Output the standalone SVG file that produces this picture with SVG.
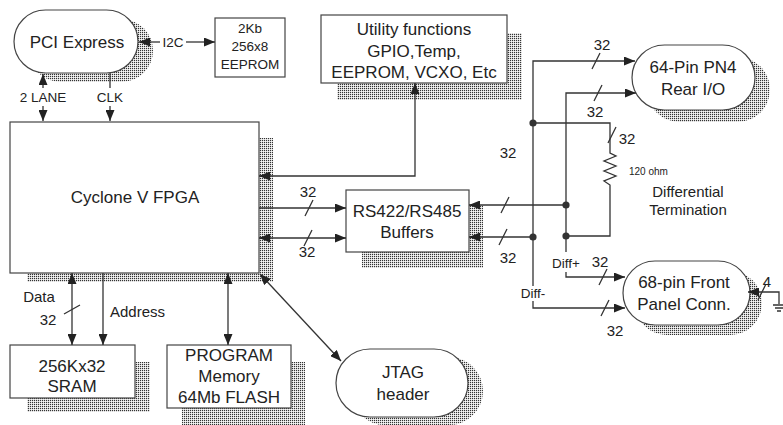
<svg xmlns="http://www.w3.org/2000/svg" width="783" height="425" viewBox="0 0 783 425">
<style>
text{font-family:"Liberation Sans",Arial,sans-serif;fill:#222;text-anchor:middle}
.n{fill:#fff;stroke:#444;stroke-width:1.2}
.sh{fill:url(#dots);stroke:none}
.c{fill:none;stroke:#333;stroke-width:1.3}
.s{stroke:#333;stroke-width:1.3}
.t17{font-size:17px}
.t13{font-size:13.5px}
.t15{font-size:15px}
</style>
<defs>
<pattern id="dots" width="2" height="2" patternUnits="userSpaceOnUse"><rect width="2" height="2" fill="#fff"/><rect width="1.2" height="1.2" fill="#333"/></pattern>
<marker id="ah" viewBox="0 0 11 9" refX="11" refY="4.5" markerWidth="11" markerHeight="9" markerUnits="userSpaceOnUse" orient="auto-start-reverse"><path d="M0,0L11,4.5L0,9z" fill="#222"/></marker>
</defs>
<rect width="783" height="425" fill="#fff"/>

<g id="pci">
<rect class="sh" x="29" y="19" width="124" height="63" rx="31.5"/>
<rect class="n" x="14" y="10" width="124" height="63" rx="31.5"/>
<text class="t17" x="77" y="48">PCI Express</text>
</g>
<g id="eeprom">
<rect class="n" x="215" y="18" width="70" height="59"/>
<text class="t13" x="250" y="33">2Kb</text>
<text class="t13" x="250" y="51">256x8</text>
<text class="t13" x="250" y="69">EEPROM</text>
</g>
<g id="fpga">
<rect class="sh" x="27" y="138" width="246" height="144"/>
<rect class="n" x="10" y="122" width="249" height="151"/>
<text class="t17" x="135" y="203">Cyclone V FPGA</text>
</g>
<g id="utility">
<rect class="sh" x="337" y="33" width="185" height="67"/>
<rect class="n" x="321" y="15" width="186" height="68"/>
<text class="t17" x="414" y="35">Utility functions</text>
<text class="t17" x="414" y="57">GPIO,Temp,</text>
<text class="t17" x="414" y="78">EEPROM, VCXO, Etc</text>
</g>
<g id="rs422">
<rect class="sh" x="362" y="205" width="121" height="63"/>
<rect class="n" x="346" y="190" width="123" height="62"/>
<text class="t17" x="407" y="217">RS422/RS485</text>
<text class="t17" x="407" y="238">Buffers</text>
</g>
<g id="pn4">
<rect class="sh" x="647" y="57" width="123" height="65" rx="32.5"/>
<rect class="n" x="632" y="45" width="123" height="65" rx="32.5"/>
<text class="t17" x="693" y="73">64-Pin PN4</text>
<text class="t17" x="693" y="95">Rear I/O</text>
</g>
<g id="front">
<rect class="sh" x="635" y="271" width="127" height="64" rx="32"/>
<rect class="n" x="623" y="261" width="127" height="64" rx="32"/>
<text class="t17" x="684" y="288">68-pin Front</text>
<text class="t17" x="684" y="310">Panel Conn.</text>
</g>
<g id="sram">
<rect class="sh" x="27" y="362" width="123" height="50"/>
<rect class="n" x="10" y="345" width="125" height="53"/>
<text class="t17" x="72" y="372">256Kx32</text>
<text class="t17" x="72" y="392">SRAM</text>
</g>
<g id="flash">
<rect class="sh" x="182" y="362" width="123" height="63"/>
<rect class="n" x="167" y="345" width="124" height="63"/>
<text class="t17" x="229" y="361">PROGRAM</text>
<text class="t17" x="229" y="382">Memory</text>
<text class="t17" x="229" y="403">64Mb FLASH</text>
</g>
<g id="jtag">
<rect class="sh" x="351" y="357" width="132" height="68" rx="34"/>
<rect class="n" x="336" y="349" width="132" height="68" rx="34"/>
<text class="t17" x="403" y="378">JTAG</text>
<text class="t17" x="403" y="400">header</text>
</g>

<g id="connectors">
<path class="c" d="M160,42H139" marker-end="url(#ah)"/>
<path class="c" d="M186,42H215" marker-end="url(#ah)"/>
<text class="t13" x="173" y="47">I2C</text>
<path class="c" d="M43,88V74" marker-end="url(#ah)"/>
<path class="c" d="M43,106V121" marker-end="url(#ah)"/>
<text class="t13" x="43" y="102">2 LANE</text>
<path class="c" d="M110,73V88"/>
<path class="c" d="M110,106V121" marker-end="url(#ah)"/>
<text class="t13" x="110" y="102">CLK</text>
<path class="c" d="M259,176H415V83" marker-start="url(#ah)" marker-end="url(#ah)"/>
<path class="c" d="M259,208H346" marker-end="url(#ah)"/>
<path class="c" d="M259,238H346" marker-start="url(#ah)" marker-end="url(#ah)"/>
<path class="c" d="M566,205H469" marker-end="url(#ah)"/>
<path class="c" d="M533,237H469" marker-end="url(#ah)"/>
<path class="c" d="M533,286V61H635" marker-end="url(#ah)"/>
<path class="c" d="M533,301V308H625" marker-end="url(#ah)"/>
<path class="c" d="M566,252V93H636" marker-end="url(#ah)"/>
<path class="c" d="M566,272V277H625" marker-end="url(#ah)"/>
<path class="c" d="M533,123H610V153l6,3l-12,5l12,5l-12,5l12,5l-12,5l6,4V236H566"/>
<path class="c" d="M779,304V292H748" marker-end="url(#ah)"/>
<path class="c" d="M773,305H785M775,308H783M777,311H781"/>
<path class="c" d="M72,273V345" marker-start="url(#ah)" marker-end="url(#ah)"/>
<path class="c" d="M103,273V345" marker-end="url(#ah)"/>
<path class="c" d="M228,273V345" marker-start="url(#ah)" marker-end="url(#ah)"/>
<path class="c" d="M260,274L341,361" marker-start="url(#ah)" marker-end="url(#ah)"/>
<circle cx="533" cy="123" r="3.6" fill="#333"/>
<circle cx="533" cy="237" r="3.6" fill="#333"/>
<circle cx="566" cy="205" r="3.6" fill="#333"/>
<circle cx="566" cy="236" r="3.6" fill="#333"/>
<path class="s" d="M305,216L313,200M304,246L312,230M501,213L509,197M499,245L507,229M592,69L600,53M594,101L602,85M608,143L616,127M599,285L607,269M601,316L609,300M64,314L80,305M758,300L766,284"/>
<text class="t15" x="308" y="197">32</text>
<text class="t15" x="307" y="257">32</text>
<text class="t15" x="508" y="263">32</text>
<text class="t15" x="508" y="158">32</text>
<text class="t15" x="602" y="50">32</text>
<text class="t15" x="595" y="117">32</text>
<text class="t15" x="627" y="144">32</text>
<text class="t15" x="600" y="267">32</text>
<text class="t15" x="615" y="336">32</text>
<text class="t15" x="767" y="287">4</text>
<text class="t13" x="566" y="268">Diff+</text>
<text class="t13" x="533" y="298">Diff-</text>
<text x="629" y="175" style="font-size:10px;text-anchor:start">120 ohm</text>
<text class="t15" x="688" y="197">Differential</text>
<text class="t15" x="688" y="215">Termination</text>
<text class="t15" x="39" y="302">Data</text>
<text class="t15" x="48" y="325">32</text>
<text class="t15" x="110" y="317" style="text-anchor:start">Address</text>
</g>
</svg>
